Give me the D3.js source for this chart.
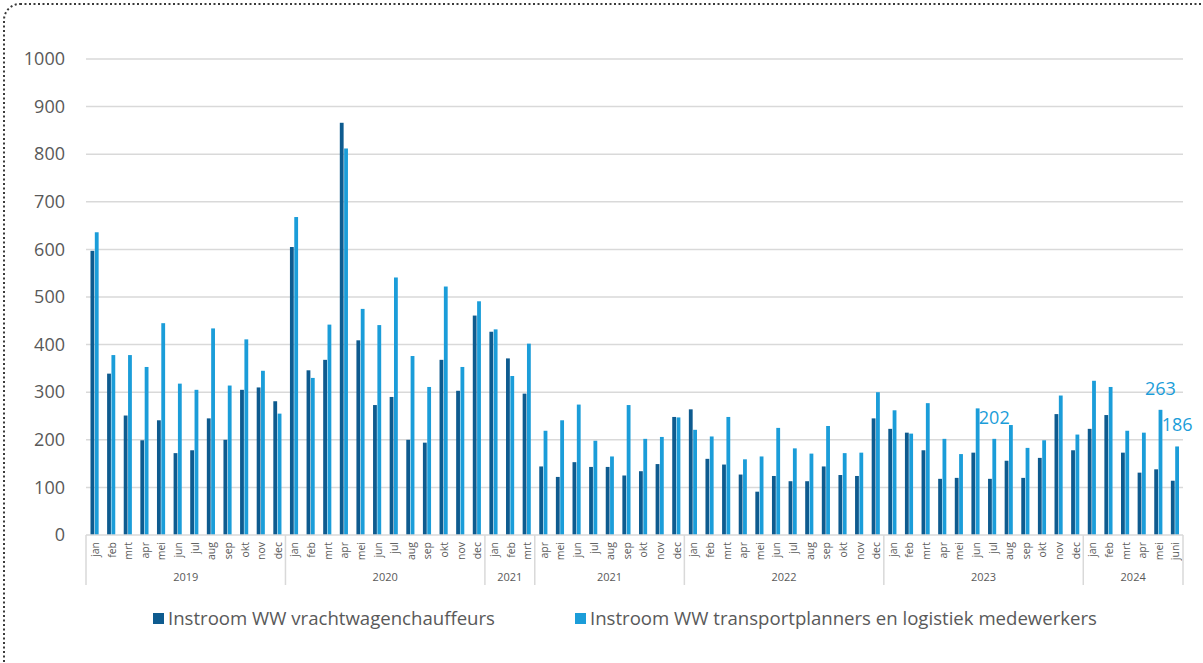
<!DOCTYPE html>
<html>
<head>
<meta charset="utf-8">
<script src="https://cdn.jsdelivr.net/npm/d3@7"></script>
<style>
    body { margin: 0; background: #fff; overflow: hidden; }
    svg { display: block; }
    svg text { font-family: "Open Sans", sans-serif; }
</style>
</head>
<body>
<div id="chart"></div>
<script>
var width = 1203;
var height = 663;
var margin = {left: 86, right: 20, top: 59, bottom: 128};

// maandnamen per jaargroep (2021 staat twee keer in de as)
var year_groups = ["2019", "2020", "2021", "2021", "2022", "2023", "2024"];
var year_months = [
    ["jan", "feb", "mrt", "apr", "mei", "jun", "jul", "aug", "sep", "okt", "nov", "dec"],
    ["jan", "feb", "mrt", "apr", "mei", "jun", "jul", "aug", "sep", "okt", "nov", "dec"],
    ["jan", "feb", "mrt"],
    ["apr", "mei", "jun", "jul", "aug", "sep", "okt", "nov", "dec"],
    ["jan", "feb", "mrt", "apr", "mei", "jun", "jul", "aug", "sep", "okt", "nov", "dec"],
    ["jan", "feb", "mrt", "apr", "mei", "jun", "jul", "aug", "sep", "okt", "nov", "dec"],
    ["jan", "feb", "mrt", "apr", "mei", "juni"]
];

var series_names = ["Instroom WW vrachtwagenchauffeurs", "Instroom WW transportplanners en logistiek medewerkers"];
var series_colors = ["#0e5b8f", "#1b9dd9"];

var chauffeurs = [
    597, 339, 251, 199, 241, 172, 178, 245, 200, 305, 310, 281,
    605, 346, 368, 866, 409, 273, 290, 200, 194, 368, 303, 461,
    427, 371, 297, 144, 122, 153, 143, 143, 125, 134, 149, 248,
    264, 160, 148, 127, 91, 124, 113, 113, 144, 126, 124, 245,
    223, 215, 178, 118, 120, 173, 118, 156, 120, 162, 254, 178,
    223, 252, 173, 131, 138, 114
];
var planners = [
    636, 378, 378, 353, 445, 318, 305, 434, 314, 411, 345, 255,
    668, 330, 442, 812, 475, 441, 541, 376, 311, 522, 353, 491,
    432, 334, 402, 219, 241, 274, 198, 165, 273, 202, 206, 247,
    221, 207, 248, 159, 165, 225, 182, 171, 229, 172, 173, 300,
    262, 213, 277, 202, 170, 266, 202, 231, 183, 199, 293, 211,
    324, 311, 219, 215, 263, 186
];
// maanden (index) waar een waardelabel bij de lichte balk staat
var labelled = [54, 64, 65];

var y_ticks = [0, 100, 200, 300, 400, 500, 600, 700, 800, 900, 1000];

var months = [];
var groups = [];
year_months.forEach((list, gi) => {
    let start = months.length;
    list.forEach(m => {
        months.push({id: months.length, name: m});
    });
    groups.push({year: year_groups[gi], start: start, end: months.length - 1});
});
months.forEach(m => {
    m.values = [chauffeurs[m.id], planners[m.id]];
});

var svg = d3.select("#chart").append("svg")
    .attr("width", width)
    .attr("height", height);

// gestippelde kader
svg.append("rect")
    .attr("x", 4).attr("y", 4)
    .attr("width", width + 100).attr("height", height + 60)
    .attr("rx", 16)
    .attr("fill", "none")
    .attr("stroke", "#3a3a3a")
    .attr("stroke-width", 2)
    .attr("stroke-dasharray", "2,2.5");

var plot_right = 1183;

var x0 = d3.scaleBand()
    .domain(months.map(m => m.id))
    .range([margin.left, plot_right])
    .padding(0);

var x1 = d3.scaleBand()
    .domain([0, 1])
    .range([x0.bandwidth() * 0.27, x0.bandwidth() * 0.76])
    .paddingInner(0.12);

var y = d3.scaleLinear()
    .domain([0, 1000])
    .range([535, margin.top]);

// rasterlijnen
svg.append("g").selectAll("line").data(y_ticks.filter(t => t > 0))
    .enter().append("line")
    .attr("x1", margin.left).attr("x2", plot_right)
    .attr("y1", d => y(d)).attr("y2", d => y(d))
    .attr("stroke", "#d9d9d9")
    .attr("stroke-width", 1.5);

// y-as labels
var y_axis = svg.append("g")
    .attr("transform", `translate(${margin.left - 21},0)`)
    .call(d3.axisLeft(y).tickValues(y_ticks).tickSize(0).tickPadding(0).tickFormat(d3.format("d")));
y_axis.select(".domain").remove();
y_axis.selectAll("text")
    .attr("fill", "#595959")
    .style("font-size", "18px")
    .style("font-family", "'Open Sans', sans-serif");

// balken
var month_g = svg.append("g").selectAll("g").data(months)
    .enter().append("g")
    .attr("transform", d => `translate(${x0(d.id)},0)`);

month_g.selectAll("rect").data(d => d.values.map((v, i) => ({s: i, v: v})))
    .enter().append("rect")
    .attr("x", d => x1(d.s))
    .attr("y", d => y(d.v))
    .attr("width", x1.bandwidth())
    .attr("height", d => y(0) - y(d.v))
    .attr("fill", d => series_colors[d.s]);

// waardelabels
svg.append("g").selectAll("text").data(labelled)
    .enter().append("text")
    .attr("x", d => x0(d) + x1(1) + x1.bandwidth() / 2)
    .attr("y", d => y(planners[d]) - 15)
    .attr("text-anchor", "middle")
    .attr("fill", "#1b9dd9")
    .style("font-size", "18px")
    .text(d => planners[d]);

// x-as lijn
svg.append("line")
    .attr("x1", margin.left).attr("x2", plot_right)
    .attr("y1", y(0)).attr("y2", y(0))
    .attr("stroke", "#d9d9d9")
    .attr("stroke-width", 1.5);

// maandlabels
svg.append("g").selectAll("text").data(months)
    .enter().append("text")
    .attr("transform", d => `translate(${x0(d.id) + x0.bandwidth() / 2 + 1},${y(0) + 7}) rotate(-90)`)
    .attr("text-anchor", "end")
    .attr("dy", "0.35em")
    .attr("fill", "#595959")
    .style("font-size", "10.5px")
    .text(d => d.name);

// jaargroep scheidingen en labels
var bounds = groups.map(g => x0(g.start)).concat([plot_right]);
svg.append("g").selectAll("line").data(bounds)
    .enter().append("line")
    .attr("x1", d => d).attr("x2", d => d)
    .attr("y1", y(0)).attr("y2", 585)
    .attr("stroke", "#d9d9d9")
    .attr("stroke-width", 1.5);

svg.append("g").selectAll("text").data(groups)
    .enter().append("text")
    .attr("x", d => (x0(d.start) + x0(d.end) + x0.bandwidth()) / 2)
    .attr("y", 581)
    .attr("text-anchor", "middle")
    .attr("fill", "#595959")
    .style("font-size", "11px")
    .text(d => d.year);

// legenda
var legend_x = [153, 575];
var legend = svg.append("g").selectAll("g").data(series_names)
    .enter().append("g")
    .attr("transform", (d, i) => `translate(${legend_x[i]},613)`);
legend.append("rect")
    .attr("width", 11).attr("height", 11)
    .attr("fill", (d, i) => series_colors[i]);
legend.append("text")
    .attr("x", 15)
    .attr("y", 12)
    .attr("fill", "#595959")
    .style("font-size", "18.6px")
    .text(d => d);
</script>
</body>
</html>
